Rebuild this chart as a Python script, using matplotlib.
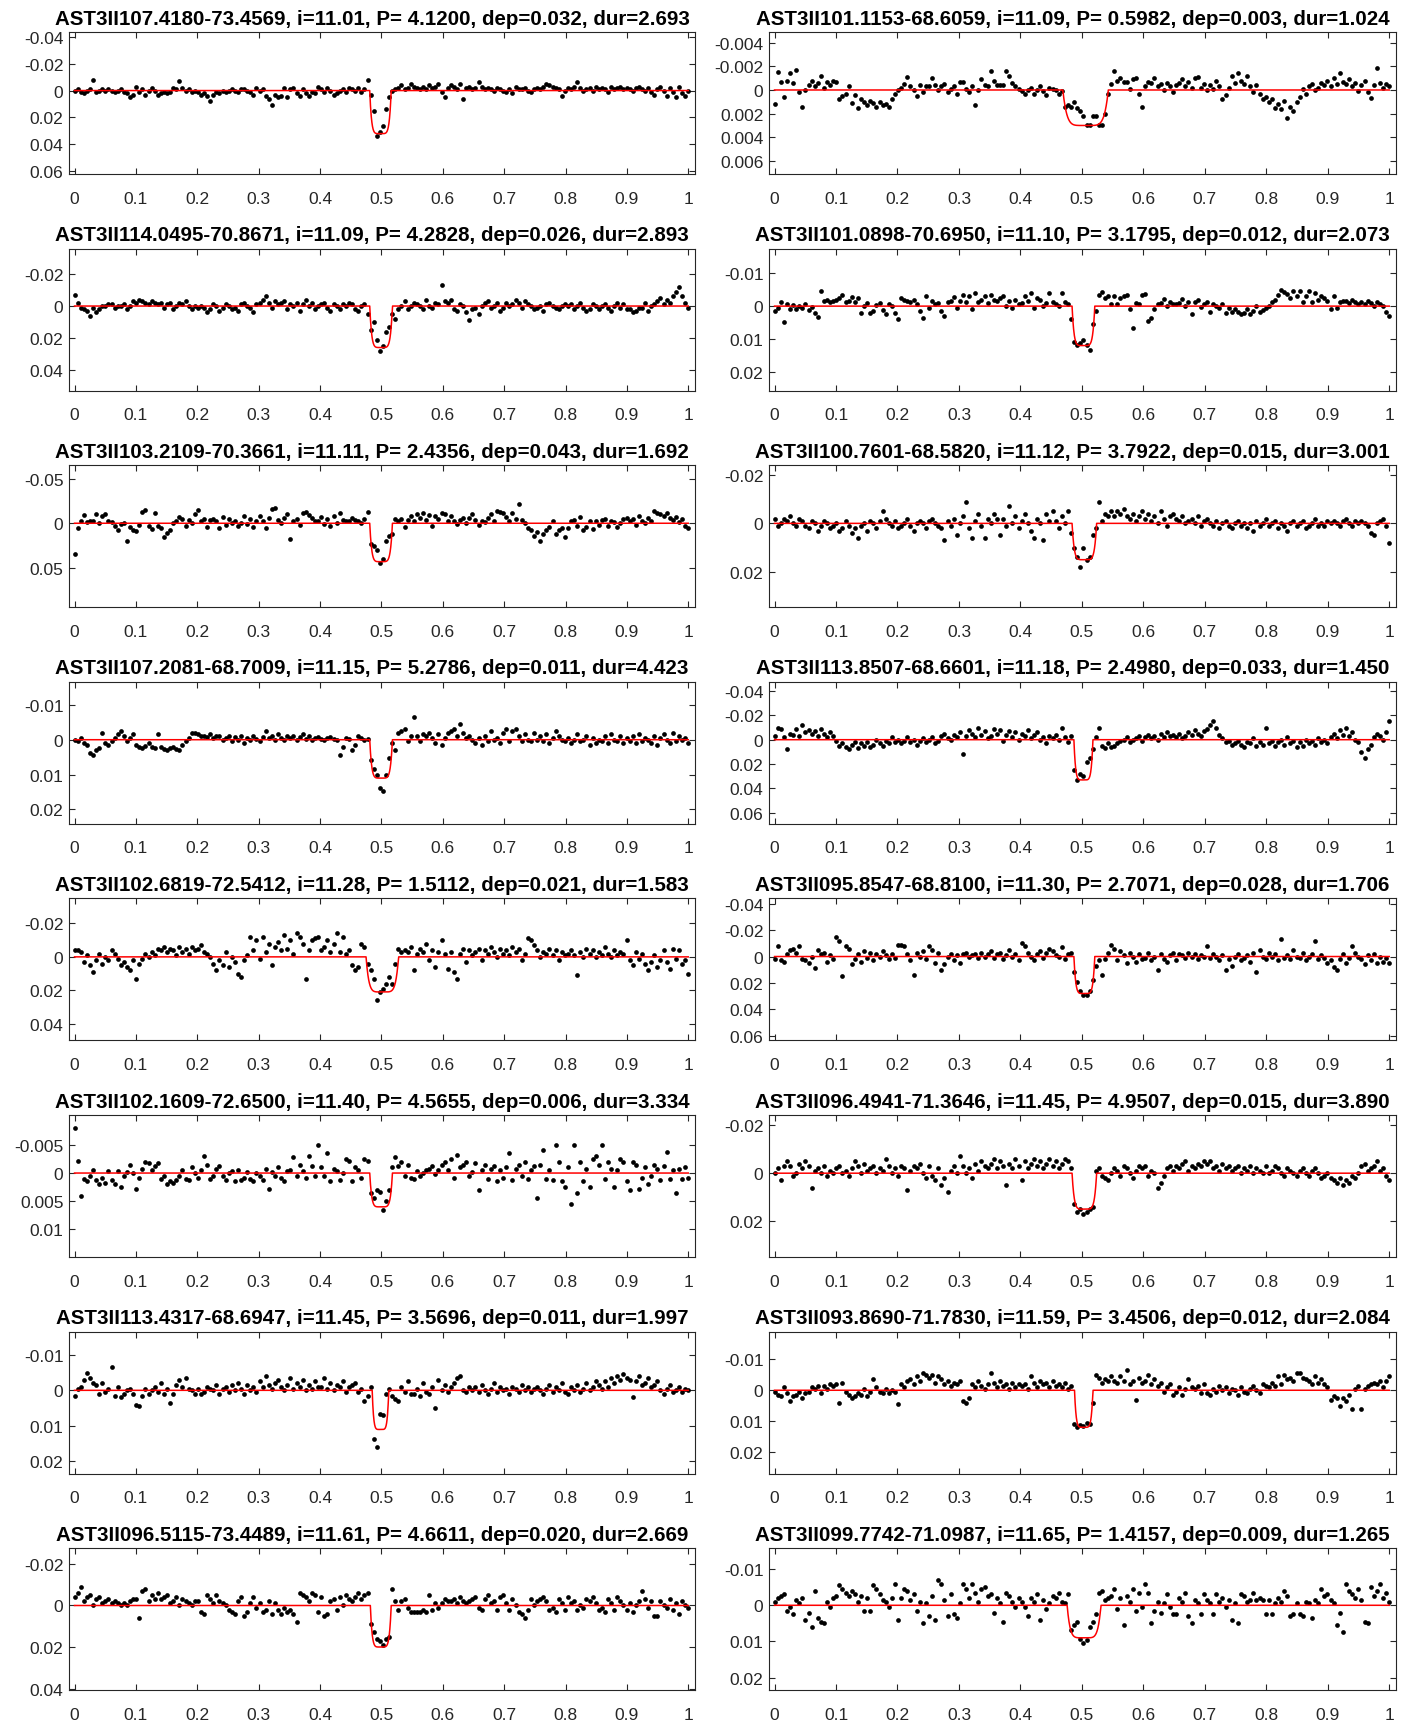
import numpy as np
import matplotlib
matplotlib.use('Agg')
import matplotlib.pyplot as plt
from matplotlib.ticker import FixedLocator, FuncFormatter

# ---------------- data ----------------
names = ["AST3II107.4180-73.4569", "AST3II101.1153-68.6059", "AST3II114.0495-70.8671",
         "AST3II101.0898-70.6950", "AST3II103.2109-70.3661", "AST3II100.7601-68.5820",
         "AST3II107.2081-68.7009", "AST3II113.8507-68.6601", "AST3II102.6819-72.5412",
         "AST3II095.8547-68.8100", "AST3II102.1609-72.6500", "AST3II096.4941-71.3646",
         "AST3II113.4317-68.6947", "AST3II093.8690-71.7830", "AST3II096.5115-73.4489",
         "AST3II099.7742-71.0987"]
mags = [11.01, 11.09, 11.09, 11.10, 11.11, 11.12, 11.15, 11.18,
        11.28, 11.30, 11.40, 11.45, 11.45, 11.59, 11.61, 11.65]
periods = [4.1200, 0.5982, 4.2828, 3.1795, 2.4356, 3.7922, 5.2786, 2.4980,
           1.5112, 2.7071, 4.5655, 4.9507, 3.5696, 3.4506, 4.6611, 1.4157]
depths = [0.032, 0.003, 0.026, 0.012, 0.043, 0.015, 0.011, 0.033,
          0.021, 0.028, 0.006, 0.015, 0.011, 0.012, 0.020, 0.009]
durations = [2.693, 1.024, 2.893, 2.073, 1.692, 3.001, 4.423, 1.450,
             1.583, 1.706, 3.334, 3.890, 1.997, 2.084, 2.669, 1.265]
dip_start = [0.481, 0.469, 0.481, 0.484, 0.481, 0.484, 0.481, 0.487,
             0.475, 0.487, 0.481, 0.484, 0.485, 0.488, 0.482, 0.476]
dip_end = [0.516, 0.543, 0.518, 0.521, 0.518, 0.524, 0.518, 0.518,
           0.528, 0.521, 0.518, 0.524, 0.512, 0.518, 0.516, 0.531]
y_top = [-0.0435, -0.0049, -0.036, -0.0175, -0.065, -0.024, -0.0166, -0.0475,
         -0.035, -0.044, -0.0103, -0.0243, -0.0165, -0.019, -0.0276, -0.0158]
y_bottom = [0.062, 0.0071, 0.053, 0.0257, 0.094, 0.0346, 0.0241, 0.069,
            0.050, 0.0635, 0.0149, 0.035, 0.0234, 0.027, 0.0408, 0.0235]
y_ticks = [[-0.04, -0.02, 0, 0.02, 0.04, 0.06], [-0.004, -0.002, 0, 0.002, 0.004, 0.006],
           [-0.02, 0, 0.02, 0.04], [-0.01, 0, 0.01, 0.02],
           [-0.05, 0, 0.05], [-0.02, 0, 0.02],
           [-0.01, 0, 0.01, 0.02], [-0.04, -0.02, 0, 0.02, 0.04, 0.06],
           [-0.02, 0, 0.02, 0.04], [-0.04, -0.02, 0, 0.02, 0.04, 0.06],
           [-0.005, 0, 0.005, 0.01], [-0.02, 0, 0.02],
           [-0.01, 0, 0.01, 0.02], [-0.01, 0, 0.01, 0.02],
           [-0.02, 0, 0.02, 0.04], [-0.01, 0, 0.01, 0.02]]
x_ticks = [0, 0.1, 0.2, 0.3, 0.4, 0.5, 0.6, 0.7, 0.8, 0.9, 1.0]
units = [1e-3, 1e-4, 1e-3, 1e-4, 1e-3, 1e-3, 1e-4, 1e-3,
         1e-3, 1e-3, 1e-4, 1e-3, 1e-4, 1e-4, 1e-3, 1e-4]

flux_01 = [0,-1,1,2,0,-1,-8,1,0,-1, 0,-1,0,1,0,-1,1,2,5,3, -3,1,-1,3,0,-2,0,3,2,1,
           2,1,-2,-1,-7,-2,0,-1,1,0, 1,3,2,4,8,3,1,2,0,1, 0,-1,0,1,-1,-1,0,1,3,-2,
           0,-1,4,6,11,3,5,4,-2,5, -1,-2,2,4,-1,2,4,1,2,-3, -1,1,-2,0,3,2,0,-1,1,-2,
           -1,0,-2,1,-1,-8,3,15,34,31, 26,14,5,0,-1,-2,-4,-1,-2,-5, -3,-2,-1,-3,-1,-4,-2,-3,-5,1,
           5,-2,-4,-3,-1,-5,6,-2,-3,-1, -2,-6,-3,-1,-2,-1,0,-2,-1,0, 1,-1,2,-3,-1,-1,-2,0,1,-1,
           -2,-1,-3,-5,-4,-3,-2,-1,4,0, -2,-1,-3,-6,-2,0,-1,-2,0,-3, -1,-2,-1,1,-3,-1,-2,-3,-1,-2,
           -1,0,-2,-3,-1,0,-2,1,3,-1, -3,0,4,-2,1,5,-3,2,4,0]
flux_02 = [12,-15,-7,6,-8,-14,-6,-17,2,14, 0,-4,-8,-3,-6,-12,-2,-7,-4,-8, -7,8,5,3,-3,11,4,15,8,10,
           13,9,11,14,10,13,12,14,8,3, 0,-2,-5,-11,-3,0,5,-4,2,-3, -3,-10,-4,0,-3,-5,2,-1,-3,3,
           -7,-7,-1,2,-3,13,0,-9,-4,-3, -16,-8,-4,-4,-4,-16,-12,-6,-3,-1, 1,3,0,-2,3,0,-3,1,4,-2,
           -1,0,3,1,14,13,14,10,15,18, 22,30,30,22,22,30,30,20,3,-5, -16,-8,-10,-7,-7,-1,-9,-10,3,14,
           -3,-7,-6,-10,-3,-5,0,-6,-3,2, -4,-6,-9,-3,-7,-2,-10,-11,-2,-5, 0,-4,-1,-8,-3,8,4,-2,-12,-6,
           -14,-8,-5,-12,-3,2,-4,3,8,6, 10,8,15,12,16,9,24,14,18,10, 6,-1,3,-3,-5,0,-2,-6,-4,-8,
           -3,-10,-5,-14,-7,-5,-9,-3,-6,1, -4,-8,2,7,-4,-19,-6,-2,-5,-3]
flux_03 = [-7,-2,1,2,3,6,1,4,2,0, 0,-1,-1,1,0,0,-1,2,0,-3, -2,-4,-3,-2,-1,-3,-2,-1,-2,1,
           -1,-2,2,0,-2,-1,-3,0,2,0, 1,0,1,4,2,-1,0,3,1,-1, 0,2,1,3,-1,-2,0,1,4,-1,
           -2,-4,-6,-2,1,-3,-1,-2,-3,2, -1,0,-2,3,-1,-4,0,-2,2,0, -1,-2,1,3,-1,0,2,-1,0,-2,
           -1,2,3,0,-1,5,15,10,21,28, 25,16,13,5,8,2,0,-3,2,0, -2,-1,0,2,-4,0,1,-2,-1,-13,
           -3,-2,-4,2,3,-1,0,4,9,2, 1,5,0,-2,-3,1,0,-2,3,1, -2,0,-1,-4,-2,1,-3,-1,0,2,
           1,0,3,-1,-2,0,1,2,0,-1, 0,-1,2,0,-2,1,3,2,-1,0, 2,0,-1,1,3,0,-2,1,-1,2,
           2,4,3,1,1,-2,3,0,-1,-3, -5,-1,-4,-2,-6,-9,-12,-6,-2,1]
flux_04 = [15,5,-13,47,-7,8,-3,10,0,7, -5,12,3,20,33,-45,-15,-20,-12,-17, -20,-25,-35,-13,-15,-27,-13,-25,20,0,
           -10,20,15,-3,-10,13,25,-7,0,20, 40,-25,-20,-17,-13,-20,-5,15,35,-30, 5,-17,-5,-10,15,30,-13,-17,-27,7,
           -17,-35,-13,-30,10,-40,-13,-20,-30,-10, -35,-20,-15,-25,-30,0,-17,5,-20,-5, -8,-32,-15,-40,5,-25,-20,0,-10,-40,
           -13,-5,0,-40,-13,-5,40,110,117,112, 103,118,133,55,15,-35,-43,-25,-30,-7, -30,-7,-25,-32,-35,10,67,-10,-5,-35,
           -37,45,37,10,-7,-10,-23,0,-13,-5, -7,-10,-23,0,-13,23,-13,-20,3,-7, -13,17,-5,0,7,-5,20,7,17,10,
           17,25,20,10,25,15,0,17,13,5, 0,-13,-20,-35,-50,-43,-37,-25,-45,-30, -45,-13,-30,-45,-13,-40,-20,-30,-25,-17,
           10,-30,5,-13,-15,-17,-10,-20,-13,-7, -13,-5,-17,-10,0,-13,-5,0,17,30]
flux_05 = [34,5,-2,-9,-1,-2,-3,-10,0,-8, -10,-2,-1,3,8,1,0,20,4,8, 9,2,-13,-15,3,6,-11,3,5,15,
           11,8,0,-2,-7,-5,3,-4,0,-10, -15,-2,-5,4,-4,-5,-2,5,-7,2, -5,0,-2,3,0,-8,1,-5,4,-3,
           -8,-3,5,-6,-16,-17,-4,0,-6,-10, 18,-3,-5,2,-11,-13,-9,-6,-3,-2, -7,1,-5,3,-8,0,-12,-4,-2,-3,
           -6,-4,-2,0,-5,-13,23,26,30,45, 40,20,14,12,-5,-3,-5,4,-4,-8, -2,-10,-6,-11,-4,-9,3,-8,-5,-12,
           -10,-3,-8,-2,1,-4,-6,0,-6,-10, -4,2,-3,-1,-6,-10,-2,-14,-13,-11, -7,-3,-12,-5,-21,-4,0,5,8,14,
           10,20,12,7,4,-2,12,8,5,15, 5,-3,-4,3,-7,7,4,-3,6,-2, 2,-4,-5,3,-2,-1,4,0,-5,-6,
           -3,-5,2,-8,-2,0,-6,-3,-14,-12, -10,-8,-12,-6,-4,-7,-1,-5,3,5]
flux_06 = [-2,1,0,-2,-1,-3,0,1,-2,-1, 1,2,-1,0,3,1,-1,0,2,1, 0,3,2,-1,1,4,2,6,1,0,
           3,-1,0,2,-1,-5,-2,0,1,-1, 2,1,0,-2,1,3,0,-1,0,2, -1,-2,0,1,2,7,-1,1,-2,5,
           0,-3,-9,2,6,-1,-4,1,6,-2, 0,-4,-2,5,-2,1,-7,0,-3,2, -1,-4,0,3,6,-2,0,7,-4,-1,
           -5,-1,2,-3,0,-5,4,10,14,18, 10,15,14,5,2,-9,-1,-4,-3,-5, -3,-5,-4,-6,-3,-2,-4,-1,-3,-5,
           -2,-4,-1,-3,0,-5,-2,1,-3,-4, -2,-1,-3,0,-1,-2,0,-3,1,-1, -2,0,1,-1,2,0,-1,1,2,0,
           -1,1,0,2,0,3,-1,1,0,-2, 1,0,-1,2,0,1,3,0,-1,1, 0,-1,2,1,0,-2,1,0,1,-1,
           0,-1,0,1,-1,-2,0,1,-1,0, -1,0,1,4,5,0,-1,-2,1,8]
flux_07 = [0,5,-5,10,15,38,45,30,25,-20, 10,15,5,-5,-15,-25,-10,5,-5,-15, 15,20,25,18,10,22,25,-15,20,28,
           30,25,20,28,30,15,5,-5,-20,-18, -15,-10,-12,-8,-15,-5,-10,-12,0,-5, -10,5,-8,0,-12,10,-5,0,-10,-3,
           5,-8,-25,-5,-10,0,-15,-5,0,-10, -5,-12,0,-8,-15,-3,-10,0,-5,-8, -3,0,-5,-8,-3,0,45,20,-5,-3,
           30,15,-10,-5,0,-3,59,85,101,139, 147,101,52,10,30,-20,-25,-30,5,-10, -65,-10,5,-15,-10,-20,-5,10,-15,15,
           -5,-20,-25,-30,-10,-45,-20,-5,-10,0, 10,-5,15,-10,5,-25,0,-5,10,-20, -30,5,-25,-30,-10,5,-15,0,5,-20,
           0,-10,5,-15,10,-5,-25,-10,0,5, -5,10,0,-15,5,0,-10,15,-5,10, 0,5,-10,10,-15,0,5,-10,10,-5,
           5,-10,10,-15,5,-5,0,10,-10,15, -5,-15,0,10,-20,5,-10,0,-5,10]
flux_08 = [-3,-10,-9,-2,8,-5,-4,-9,-3,-12, -6,-8,-5,-7,-3,-9,-5,-2,-6,-3, 1,5,3,6,8,4,2,7,3,5,
           2,6,4,0,3,5,1,3,-2,2, 0,3,1,-2,2,0,4,1,-1,2, 0,-2,3,1,-3,-5,-1,0,-4,-2,
           -6,12,-3,-8,-5,-2,-10,-4,-7,-1, -3,-9,-5,-8,1,-4,-7,-2,-6,0, -5,-3,-8,-1,-4,-6,0,-2,3,-3,
           -1,-4,0,-10,-2,2,-3,25,33,28, 30,18,15,8,-2,-10,5,7,3,6, 5,3,1,0,-2,2,0,-1,-3,1,
           -2,-4,-1,-3,0,-5,-2,-6,-3,-4, -2,-5,-1,-3,-6,-4,-8,-5,-3,-7, -9,-12,-15,-10,-4,-1,2,1,4,3,
           1,4,6,2,3,-1,5,2,4,-10, 3,1,5,2,0,4,-2,3,1,6, 2,5,0,3,1,4,-1,2,0,3,
           -2,-5,-1,-8,-4,-10,-3,-6,0,2, 10,15,8,4,-2,-5,-3,0,-6,-15]
flux_09 = [-4,-4,-3,3,-1,5,9,2,-2,4, 0,2,-4,-2,1,5,3,6,8,2, 13,4,1,-2,0,-3,-1,-5,-4,-6,
           -3,-5,-4,-1,-6,-3,-5,-2,-6,-4, -5,-7,-3,-2,0,4,8,2,5,-3, 6,0,3,10,12,2,-1,-12,-4,-10,
           1,-12,-3,-8,5,-6,-9,-4,-13,-5, -10,-2,-14,-12,-8,13,-4,-10,-11,-12, -4,-6,-10,-3,-8,-14,-3,-12,-2,-4,
           5,8,6,-8,-6,4,8,13,26,21, 19,16,12,16,4,-5,-3,-4,-3,-6, 8,-2,-5,-3,-8,2,-4,6,-3,-10,
           -2,7,-3,9,13,-2,-5,3,-4,-1, -3,-5,2,-4,-2,-6,-3,0,-5,-2, -4,-1,-6,-3,-5,2,-2,-11,-10,-7,
           -4,0,-3,-2,-5,-1,-4,2,-3,-1, -2,-4,-1,11,-3,0,-5,-2,-4,0, -3,-1,-6,-2,0,-4,-1,-3,-2,-10,
           2,5,-3,1,-2,4,8,3,-1,6, 2,-4,3,7,-5,1,-4,4,2,10]
flux_10 = [2,-8,3,4,-2,-5,-6,-3,-8,2, 3,5,0,9,-5,-2,-3,4,-1,2, -15,-12,15,-8,-6,6,2,-2,4,-4,
           1,-3,3,-2,0,-4,-1,2,-2,1, -9,-9,-8,-2,3,14,-3,0,-4,2, -8,-5,5,-3,10,6,0,-2,3,-1,
           5,-2,-3,0,-1,-2,1,-3,0,-2, -4,1,-2,-3,2,-1,-5,0,-2,3, -10,-8,-3,0,3,-2,-4,1,-3,-6,
           -4,-1,0,-7,2,-2,-3,12,19,26, 29,29,26,18,7,3,14,2,-3,-9, -6,3,-4,-1,5,-3,0,4,-2,2,
           1,-3,3,0,10,-2,2,4,-1,-3, 3,-2,-1,1,-3,0,-2,2,-1,0, -8,1,-2,0,3,-1,10,2,7,0,
           -2,3,1,-1,4,-3,12,-5,0,2, -3,0,-2,3,-13,1,-1,2,-5,0, 1,-3,3,0,-2,-12,2,-1,1,5,
           3,8,10,2,-2,5,1,-8,-3,0, 2,6,-1,3,-2,5,0,4,1,5]
flux_11 = [-80,-22,40,10,15,5,-5,12,20,8, 18,-3,12,20,-3,25,5,-2,-15,0, 28,8,-8,-20,-17,-5,-12,-18,10,5,
           20,15,18,12,5,-5,10,12,-10,0, 8,-5,-30,-15,10,5,-8,-12,5,12, 0,-3,15,-5,12,8,-2,10,15,0,
           5,12,-8,28,-2,5,-10,8,15,-3, -5,-28,5,-15,-3,8,-30,-12,5,-50, -10,5,-35,15,-8,-3,12,0,-25,-22,
           15,-10,-5,8,-25,-22,36,45,30,33, 65,50,30,-10,-28,-12,-20,5,-15,8, 10,-3,5,0,-5,-8,-12,2,-5,-15,
           -20,-5,-25,8,-32,-10,-15,-20,5,-2, -18,30,-5,-15,10,-8,-12,15,-5,8, -10,-35,12,-8,-15,5,-20,10,-5,-12,
           45,-15,-40,10,-5,12,-50,-20,15,25, -10,55,-50,35,-20,15,-8,25,-25,-30, -15,-50,10,-20,-8,25,-5,-25,-20,15,
           30,-20,-15,28,8,-10,20,5,-15,-8, 12,-12,-38,10,-5,35,-8,10,-10,8]
flux_12 = [0,-2,3,-3,-5,-3,1,0,-4,-2, -5,-3,6,-1,-2,0,-3,1,-1,0, -2,-3,0,-1,1,-2,-5,-3,0,-4,
           -1,-2,-3,0,-2,-1,-6,-3,0,-2, 1,-3,-2,7,-1,-3,-2,-4,0,2, -3,1,3,-2,5,2,8,-1,-3,0,
           -7,-3,0,-2,2,-4,-1,-5,-3,-2, -4,-6,-2,-5,-3,5,-4,-2,-6,-3, 3,-5,-2,-4,-6,-3,-5,-2,-4,-6,
           -3,-5,-2,-4,-6,-5,-2,13,16,15, 17,16,15,14,-1,-2,1,2,3,0, -2,-1,1,-3,-2,0,2,-1,-3,-2,
           -3,1,-1,0,6,4,1,-2,-3,-1, -3,-2,-4,-5,-1,-3,-2,-4,-3,-5, -4,-5,-2,-3,-1,-4,-2,-3,-1,-2,
           -3,0,-2,-1,-3,0,-2,-1,0,-3, 0,-1,-3,-2,0,1,-2,-1,0,1, -1,-2,0,1,-1,-2,0,2,1,0,
           2,3,4,2,5,3,4,1,2,0, -3,-4,-1,-2,-3,-5,-1,-2,1,3]
flux_13 = [15,-5,-10,-30,-50,-35,-20,-15,10,-20, 5,-5,-65,15,-10,20,10,0,-5,10, 40,45,15,-5,10,0,-10,5,-20,10,
           -5,35,10,-15,-30,-10,-35,-5,0,10, -5,10,5,-10,-5,0,-15,10,-5,-10, 5,-15,0,-20,-5,10,-15,0,-10,5,
           -25,-10,-40,-15,-5,-20,-30,-10,0,-15, -35,-5,-20,-10,-30,0,-15,-5,-25,-10, -10,-35,-5,-20,0,-15,-10,-25,5,-10,
           -15,-20,5,-5,30,15,-10,136,158,66, 69,10,-5,15,25,30,-10,5,-25,10, 10,-5,15,-20,5,10,-10,50,-30,0,
           -15,5,-10,-20,-35,-40,0,5,-10,0, -10,5,-15,0,10,-5,-20,5,-10,0, -5,10,-10,-5,5,-15,0,-10,5,-5,
           -10,0,10,-5,-15,5,-10,0,-20,5, 10,-10,0,-15,5,-5,-20,0,-10,-25, -15,-5,-25,-10,-35,-20,-40,-30,-45,-35,
           -30,20,-25,-40,-15,-20,-35,-10,-15,-25, 0,10,-5,-15,5,0,-10,5,-5,0]
flux_14 = [5,15,20,-10,10,35,20,15,5,25, 10,5,-10,-5,-15,10,-15,-5,-20,-15, -20,40,-25,5,15,25,20,10,15,-5,
           20,5,-35,-10,5,10,-5,10,0,5, 45,-20,-10,-30,-35,-20,-45,-30,-55,-50, -40,-50,-25,-45,-35,-20,-30,-15,-25,-20,
           -30,35,40,25,-20,-10,-30,-15,-5,-20, -55,-25,-10,-30,-15,-20,-5,-25,-10,-20, -15,-20,-5,-45,-25,-10,-30,-20,-25,-10,
           -30,-15,-20,-10,-25,-5,-15,110,119,112, 115,105,108,40,-50,-40,-25,-35,-30,-45, -30,-25,-45,-30,-65,-20,-30,30,-40,-25,
           -30,-50,-20,-35,-15,-25,5,-10,-20,15, 5,-10,15,-5,-35,-10,-5,-15,10,-20, 10,15,-5,5,-15,0,-10,10,-5,0,
           15,-10,5,10,-5,-15,0,10,-20,-15, -10,-25,-15,-45,-20,-50,-35,-40,-30,-55, -55,-40,-35,-30,-20,-45,-25,-35,-20,-10,
           30,20,25,50,25,35,15,60,-5,-15, 60,-5,-15,-20,-25,-20,-30,-10,-30,-45]
flux_15 = [-4,-6,-9,-2,-4,-5,0,-3,-4,-1, -2,-3,-1,-2,-1,0,-1,0,-2,-3, -3,6,-7,-8,-2,-5,-3,-6,-3,-4,
           -5,-1,-2,-4,0,-3,-2,-1,0,-2, -2,3,4,-5,-3,-1,-5,-2,-1,0, 2,3,4,-2,-4,5,3,-1,-4,1,
           -1,3,2,-2,4,-1,2,4,1,3, 2,4,8,-6,-5,-4,-2,-6,-5,3, -4,5,4,-2,-3,2,-4,0,-5,-3,
           -2,-4,-6,-3,-5,-6,9,13,16,17, 19,16,15,-8,-2,2,-2,-3,1,3, 3,3,3,2,3,-5,2,-1,1,-1,
           -3,-2,-2,-3,-1,-4,-2,-1,-2,-3, -4,1,2,-3,-5,-1,-2,2,-4,-5, -1,2,-3,0,3,4,6,2,-3,0,
           -2,-3,-4,-2,2,1,3,-3,-1,2, -4,-1,-2,2,0,1,-3,-2,-4,-1, 2,1,3,-3,-1,2,-4,-2,0,2,
           -1,3,0,-2,-7,-3,1,-2,5,5, -2,0,1,-3,2,-1,4,-2,0,1]
flux_16 = [-10,-20,-25,-30,15,5,25,-15,-5,-20, 40,20,60,-40,35,45,50,-10,5,-20, -25,-55,-45,-35,-25,-40,-30,-10,-25,15,
           -20,15,-55,-45,-30,-15,-10,5,-20,-60, 40,-20,-45,-40,-15,-30,15,-10,50,-5, 30,-25,40,-70,-60,-15,30,-30,25,35,
           -5,-60,-45,-20,-60,-35,-10,-45,-50,-25, -30,20,-20,-5,45,-35,-25,-10,5,-20, -10,5,30,-20,-10,-30,40,-15,10,-5,
           -25,-20,-35,-10,-5,-30,68,55,45,92, 105,96,60,45,25,-35,-40,-15,-20,-25, -45,10,-20,55,-25,-10,-45,15,-35,5,
           -60,-35,50,15,-10,20,-5,-30,5,25, 25,-20,-10,-35,30,50,-15,-5,25,-30, -15,-5,25,-30,-10,-20,5,-15,40,-5,
           50,-30,-25,-10,-15,-35,-15,-20,-15,25, -15,25,-5,-20,-10,-40,-25,30,25,-5, 25,30,-10,-5,35,-15,-5,-45,-25,-30,
           -15,-5,55,20,75,-60,-40,-30,-20,-45, -15,45,50,-50,-25,-40,-60,-20,-35,-10]

fluxes = [flux_01, flux_02, flux_03, flux_04, flux_05, flux_06, flux_07, flux_08,
          flux_09, flux_10, flux_11, flux_12, flux_13, flux_14, flux_15, flux_16]

# ---------------- figure ----------------
plt.rcParams['font.family'] = ['Liberation Sans', 'DejaVu Sans']
W, H = 1409, 1724
fig = plt.figure(figsize=(W / 100, H / 100), dpi=100)

col_x = [69, 769]
col_w = [626, 627]
row_top0 = 33
row_step = 216.6
ax_h = 142
axis_col = '#262626'

fmt = FuncFormatter(lambda v, p: f"{v:g}")

for k in range(16):
    r, c = divmod(k, 2)
    top = row_top0 + r * row_step
    ax = fig.add_axes([col_x[c] / W, 1 - (top + ax_h) / H, col_w[c] / W, ax_h / H])
    vals = np.array(fluxes[k], dtype=float) * units[k]
    phase = np.linspace(0, 1, len(vals))
    ax.plot(phase, vals, 'o', color='k', ms=3.4, mew=0, zorder=2)

    xm = np.linspace(0, 1, 4001)
    c0 = (dip_start[k] + dip_end[k]) / 2
    hw = (dip_end[k] - dip_start[k]) / 2
    u = np.abs(xm - c0) / hw
    ym = np.where(u < 1, depths[k] * (1 - u ** 6), 0.0)
    ax.plot(xm, ym, color='red', lw=1.1, zorder=3)

    ax.set_xlim(-0.009, 1.011)
    ax.set_ylim(y_bottom[k], y_top[k])
    ax.xaxis.set_major_locator(FixedLocator(x_ticks))
    ax.yaxis.set_major_locator(FixedLocator(y_ticks[k]))
    ax.xaxis.set_major_formatter(fmt)
    ax.yaxis.set_major_formatter(fmt)
    ax.tick_params(axis='both', which='both', direction='in', length=4.5, width=0.8,
                   color=axis_col, labelcolor=axis_col, labelsize=12.5,
                   top=True, right=True)
    ax.tick_params(axis='x', pad=12)
    ax.tick_params(axis='y', pad=4)
    for s in ax.spines.values():
        s.set_color(axis_col)
        s.set_linewidth(0.8)
    title = (f"{names[k]}, i={mags[k]:.2f}, P= {periods[k]:.4f}, "
             f"dep={depths[k]:.3f}, dur={durations[k]:.3f}")
    ax.set_title(title, fontsize=14.75, fontweight='bold', pad=6, color='k', x=0.484)

fig.savefig('out.png', dpi=100)
